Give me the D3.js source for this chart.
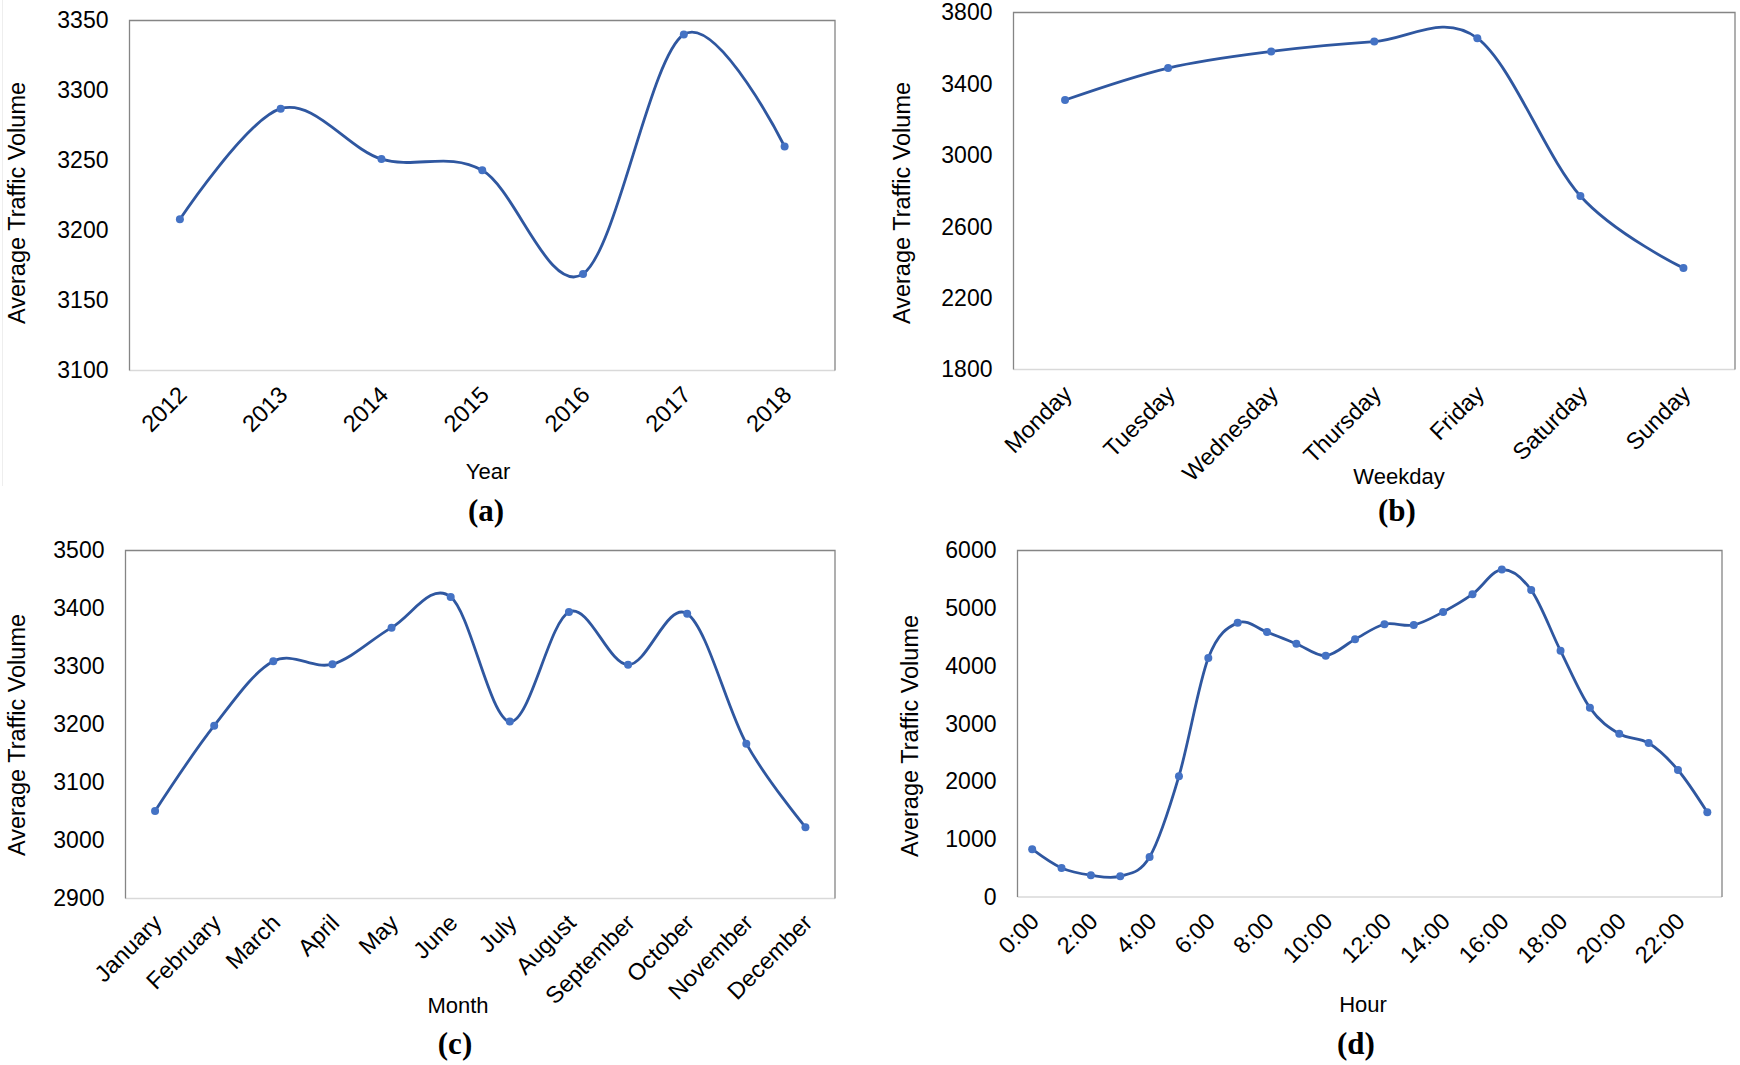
<!DOCTYPE html>
<html>
<head>
<meta charset="utf-8">
<script src="https://cdn.jsdelivr.net/npm/d3@7"></script>
<style>
  body { margin: 0; background: #fff; }
  text { font-family: "Liberation Sans", Arial, sans-serif; fill: #000; }
  .tag { font-family: "Liberation Serif", "Times New Roman", serif; font-weight: bold; }
</style>
</head>
<body>
<div id="chart"></div>
<script>
// values
const years = ["2012", "2013", "2014", "2015", "2016", "2017", "2018"];
const yearVolume = [3208, 3287, 3251, 3243, 3169, 3340, 3260];
const yearTicks = [3100, 3150, 3200, 3250, 3300, 3350];

const weekdays = ["Monday", "Tuesday", "Wednesday", "Thursday", "Friday", "Saturday", "Sunday"];
const weekdayVolume = [3310, 3489, 3582, 3637, 3656, 2772, 2368];
const weekdayTicks = [1800, 2200, 2600, 3000, 3400, 3800];

const months = ["January", "February", "March", "April", "May", "June", "July",
  "August", "September", "October", "November", "December"];
const monthVolume = [3051, 3198, 3309, 3304, 3367, 3420, 3205, 3394, 3303, 3391, 3167, 3023];
const monthTicks = [2900, 3000, 3100, 3200, 3300, 3400, 3500];

const hours = ["0:00", "1:00", "2:00", "3:00", "4:00", "5:00", "6:00", "7:00", "8:00", "9:00",
  "10:00", "11:00", "12:00", "13:00", "14:00", "15:00", "16:00", "17:00", "18:00", "19:00",
  "20:00", "21:00", "22:00", "23:00"];
const hourVolume = [828, 502, 378, 361, 692, 2093, 4138, 4747, 4587, 4386, 4179, 4463,
  4723, 4711, 4936, 5243, 5669, 5314, 4262, 3275, 2826, 2666, 2199, 1466];
const hourTicks = [0, 1000, 2000, 3000, 4000, 5000, 6000];
const hourLabels = hours.filter((h, i) => i % 2 == 0);

const svg = d3.select("#chart").append("svg")
    .attr("width", 1740)
    .attr("height", 1065);

// faint rule at the far left of panel (a)
svg.append("line")
    .attr("x1", 2.5).attr("x2", 2.5).attr("y1", 0).attr("y2", 486)
    .attr("stroke", "#eeeeee").attr("stroke-width", 1);

const drawPanel = (p) => {
  var x = d3.scalePoint()
      .domain(p.cats)
      .range([p.left, p.right])
      .padding(0.5);
  var y = d3.scaleLinear()
      .domain(d3.extent(p.ticks))
      .range([p.bottom, p.top]);

  var g = svg.append("g");

  // plot frame
  g.append("line").attr("x1", p.left).attr("x2", p.right).attr("y1", p.bottom).attr("y2", p.bottom)
      .attr("stroke", "#d9d9d9").attr("stroke-width", 1.3);
  g.append("path")
      .attr("d", "M" + p.left + "," + p.bottom + "V" + p.top + "H" + p.right + "V" + p.bottom)
      .attr("fill", "none").attr("stroke", "#858585").attr("stroke-width", 1.3);

  var yAxis = g.append("g")
      .attr("transform", "translate(" + p.left + ",0)")
      .call(d3.axisLeft(y).tickValues(p.ticks).tickFormat(d3.format("d")).tickSize(0).tickPadding(21));
  yAxis.select(".domain").remove();
  yAxis.selectAll("text")
      .style("font-size", "23px")
      .style("font-family", "'Liberation Sans', Arial, sans-serif")
      .attr("fill", "#000");

  var xAxis = g.append("g")
      .attr("transform", "translate(0," + p.bottom + ")")
      .call(d3.axisBottom(x).tickValues(p.labels).tickSize(0));
  xAxis.select(".domain").remove();
  xAxis.selectAll("text")
      .attr("y", 0)
      .attr("dy", "0.35em")
      .attr("text-anchor", "end")
      .attr("transform", "translate(2,20) rotate(-45)")
      .style("font-size", "23.5px")
      .style("font-family", "'Liberation Sans', Arial, sans-serif")
      .attr("fill", "#000");

  var line = d3.line()
      .x((d, i) => x(p.cats[i]))
      .y((d) => y(d))
      .curve(d3.curveCardinal.tension(0));

  g.append("path")
      .datum(p.values)
      .attr("d", line)
      .attr("fill", "none")
      .attr("stroke", "#2f57a0")
      .attr("stroke-width", 2.8);

  g.selectAll(".dot")
      .data(p.values)
    .enter().append("circle")
      .attr("class", "dot")
      .attr("cx", (d, i) => x(p.cats[i]))
      .attr("cy", (d) => y(d))
      .attr("r", 4)
      .attr("fill", "#4472c4");

  g.append("text")
      .attr("transform", "translate(" + p.yTitle[0] + "," + p.yTitle[1] + ") rotate(-90)")
      .attr("text-anchor", "middle")
      .attr("dy", "0.35em")
      .style("font-size", "23.5px")
      .text("Average Traffic Volume");

  g.append("text")
      .attr("x", p.xTitle[0]).attr("y", p.xTitle[1])
      .attr("text-anchor", "middle")
      .style("font-size", "22px")
      .text(p.xName);

  g.append("text")
      .attr("class", "tag")
      .attr("x", p.tag[0]).attr("y", p.tag[1])
      .attr("text-anchor", "middle")
      .style("font-size", "31px")
      .text(p.tagText);
};

drawPanel({cats: years, labels: years, values: yearVolume, ticks: yearTicks,
  left: 129.5, right: 835, top: 20.5, bottom: 370.5,
  yTitle: [17, 203], xTitle: [488, 479], xName: "Year", tag: [486, 521], tagText: "(a)"});

drawPanel({cats: weekdays, labels: weekdays, values: weekdayVolume, ticks: weekdayTicks,
  left: 1013.5, right: 1735, top: 12.5, bottom: 369.5,
  yTitle: [902, 203], xTitle: [1399, 484], xName: "Weekday", tag: [1397, 521], tagText: "(b)"});

drawPanel({cats: months, labels: months, values: monthVolume, ticks: monthTicks,
  left: 125.5, right: 835, top: 550.5, bottom: 898.5,
  yTitle: [17, 735], xTitle: [458, 1013], xName: "Month", tag: [455, 1054], tagText: "(c)"});

drawPanel({cats: hours, labels: hourLabels, values: hourVolume, ticks: hourTicks,
  left: 1017.5, right: 1722, top: 550.5, bottom: 897,
  yTitle: [910, 736], xTitle: [1363, 1012], xName: "Hour", tag: [1356, 1054], tagText: "(d)"});
</script>
</body>
</html>
